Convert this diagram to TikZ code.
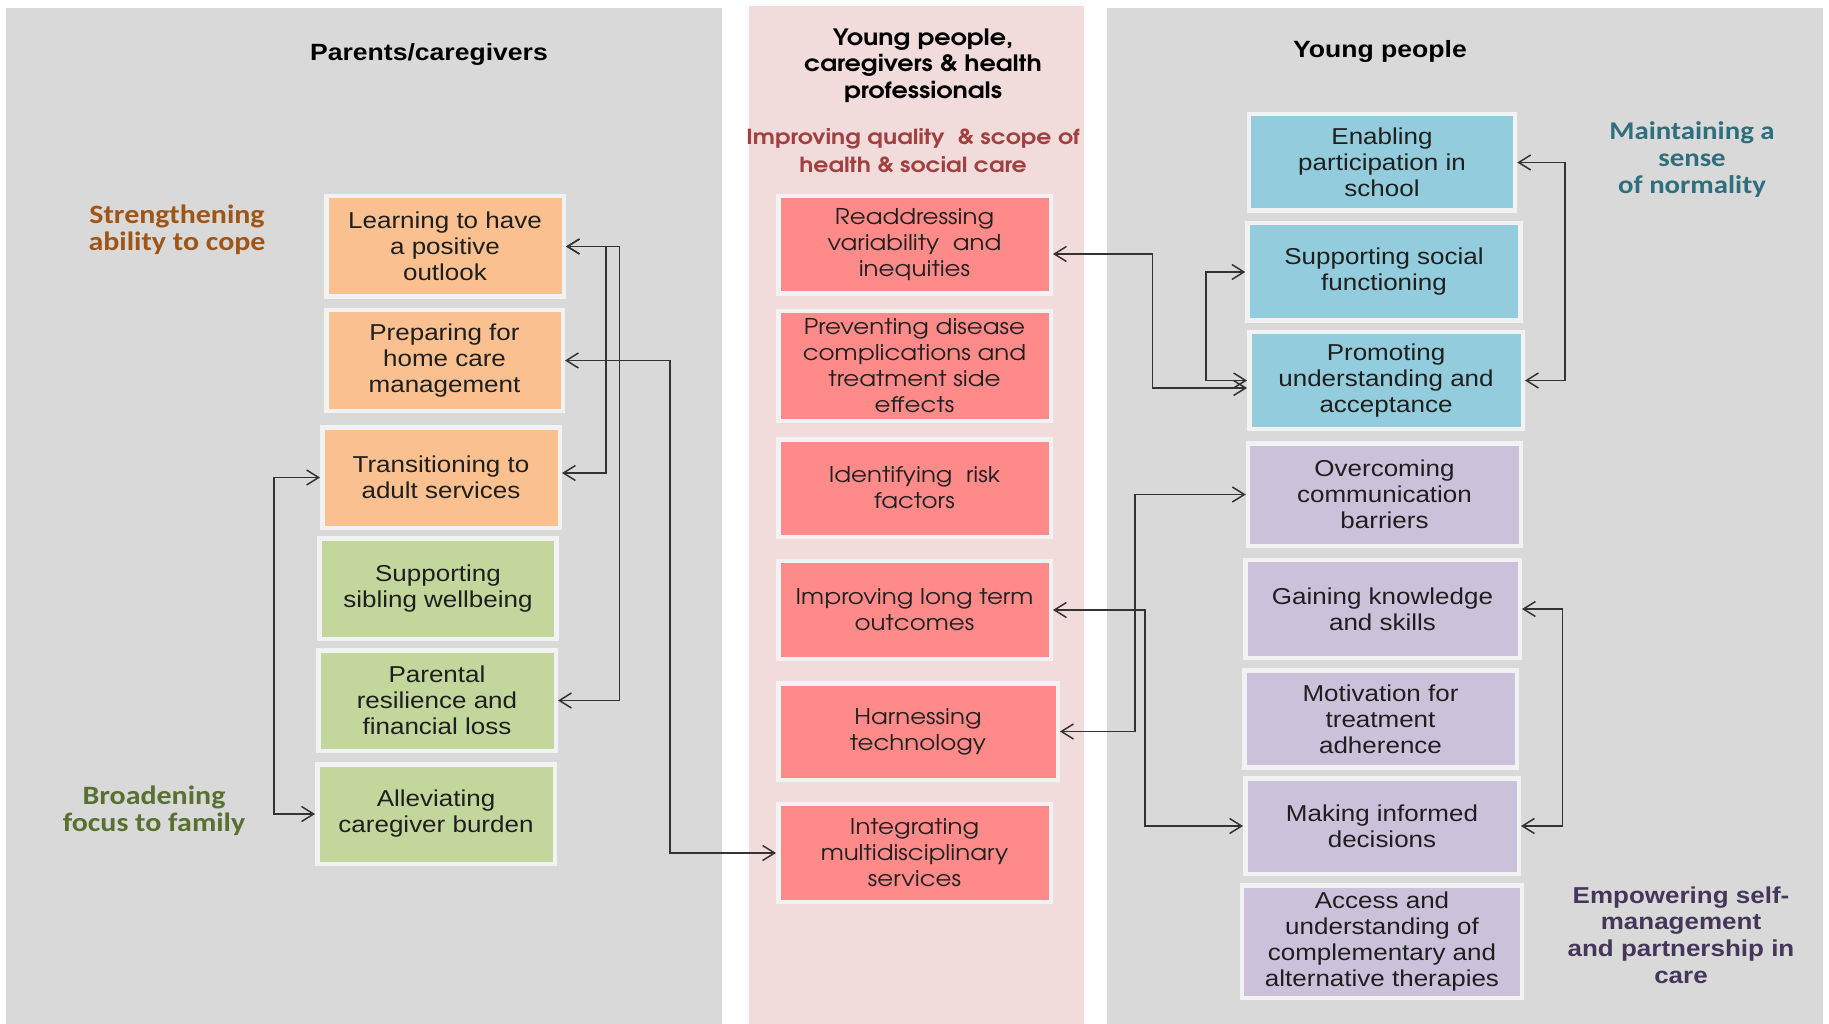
\documentclass[tikz,border=0pt]{standalone}
\usepackage{fontspec}
\usetikzlibrary{arrows.meta}
\setmainfont{Liberation Sans}
\newfontfamily\arfont[FakeStretch=1.13]{Liberation Sans}
\newfontfamily\calfont[FakeStretch=1.13]{Carlito}
\newfontfamily\gothfont[FakeStretch=1.13]{TeX Gyre Adventor}
\definecolor{panelgray}{HTML}{D9D9D9}
\definecolor{panelpink}{HTML}{F2DCDB}
\definecolor{boxborder}{HTML}{F2F2F2}
\definecolor{cOrange}{HTML}{FAC090}
\definecolor{cGreen}{HTML}{C3D69B}
\definecolor{cRed}{HTML}{FF8A8A}
\definecolor{cBlue}{HTML}{93CDDD}
\definecolor{cPurple}{HTML}{CCC1DA}
\definecolor{arrowc}{HTML}{333333}
\definecolor{tBrown}{HTML}{9E5515}
\definecolor{tOlive}{HTML}{587030}
\definecolor{tRed}{HTML}{A04040}
\definecolor{tTeal}{HTML}{2F6E7C}
\definecolor{tPurple}{HTML}{45365A}
\tikzset{
  box/.style={rectangle, draw=boxborder, line width=4.5pt, align=center, inner sep=0pt,
    text=black!88, font=\arfont\fontsize{23}{26}\selectfont},
  gbox/.style={box, font=\gothfont\fontsize{21.7}{26}\selectfont},
  arr/.style={draw=arrowc, line width=1.5pt,
    {Straight Barb[length=12pt,width=15pt]}-{Straight Barb[length=12pt,width=15pt]}},
  head/.style={align=center, inner sep=0pt, font=\arfont\bfseries\fontsize{23.5}{26}\selectfont},
  theme/.style={align=center, inner sep=0pt, font=\calfont\bfseries\fontsize{26.5}{27}\selectfont}
}
\begin{document}
\begin{tikzpicture}[x=1pt,y=-1pt]
\useasboundingbox (0,0) rectangle (1829,1024);
\fill[white] (0,0) rectangle (1829,1024);
% panels
\fill[panelgray] (6,8) rectangle (722,1024);
\fill[panelpink] (749,6) rectangle (1084,1024);
\fill[panelgray] (1107,8) rectangle (1823,1024);

% headings
\node[head] (tparents) at (429,54.5) {Parents/caregivers};
\node[head, font=\gothfont\bfseries\fontsize{22.5}{26.5}\selectfont] (tmid) at (923,65.5) {Young people,\\caregivers \& health\\professionals};
\node[head, text=tRed, font=\gothfont\bfseries\fontsize{20.8}{28}\selectfont] (tsub) at (913,151) {Improving quality \ \& scope of\\health \& social care};
\node[head] (tyoung) at (1380,51.5) {Young people};

% theme labels
\node[theme, text=tBrown] (lstrength) at (177,230) {Strengthening\\ability to cope};
\node[theme, text=tOlive] (lbroad) at (154,811) {Broadening\\focus to family};
\node[theme, text=tTeal, font=\calfont\bfseries\fontsize{25.5}{27}\selectfont] (lmaint) at (1692,160) {Maintaining a\\sense\\of normality};
\node[theme, text=tPurple, font=\arfont\bfseries\fontsize{23}{26.7}\selectfont] (lempow) at (1681,935) {Empowering self-\\management\\and partnership in\\care};

% left column boxes
\node[box, fill=cOrange, minimum width=237.5pt, minimum height=100.5pt] (learn) at (445,246.5) {Learning to have\\a positive\\outlook};
\node[box, fill=cOrange, minimum width=236.5pt, minimum height=100.5pt] (prep) at (444.5,360.5) {Preparing for\\home care\\management};
\node[box, fill=cOrange, minimum width=237.5pt, minimum height=100.5pt] (trans) at (441,477.5) {Transitioning to\\adult services};
\node[box, fill=cGreen, minimum width=237pt, minimum height=100.5pt] (sibling) at (438,588.5) {Supporting\\sibling wellbeing};
\node[box, fill=cGreen, minimum width=237.5pt, minimum height=100.5pt] (parental) at (437,700.5) {Parental\\resilience and\\financial loss};
\node[box, fill=cGreen, minimum width=237.5pt, minimum height=99.5pt] (allev) at (436,814) {Alleviating\\caregiver burden};

% middle column boxes
\node[gbox, fill=cRed, minimum width=272.5pt, minimum height=97.5pt] (readd) at (914.5,245) {Readdressing\\variability \ and\\inequities};
\node[gbox, fill=cRed, minimum width=272.5pt, minimum height=109.5pt] (prevent) at (914.5,366) {Preventing disease\\complications and\\treatment side\\effects};
\node[gbox, fill=cRed, minimum width=272.5pt, minimum height=97.5pt] (ident) at (914.5,488) {Identifying \ risk\\factors};
\node[gbox, fill=cRed, minimum width=272.5pt, minimum height=98pt] (improv) at (914.5,610) {Improving long term\\outcomes};
\node[gbox, fill=cRed, minimum width=279.5pt, minimum height=96.5pt] (harness) at (918,731.5) {Harnessing\\technology};
\node[gbox, fill=cRed, minimum width=272.5pt, minimum height=98pt] (integ) at (914.5,853) {Integrating\\multidisciplinary\\services};

% right column boxes
\node[box, fill=cBlue, minimum width=266pt, minimum height=96.5pt] (enab) at (1382,162.5) {Enabling\\participation in\\school};
\node[box, fill=cBlue, minimum width=273pt, minimum height=97.5pt] (social) at (1384,272) {Supporting social\\functioning};
\node[box, fill=cBlue, minimum width=273.5pt, minimum height=96.5pt] (promot) at (1386,380.5) {Promoting\\understanding and\\acceptance};
\node[box, fill=cPurple, minimum width=273pt, minimum height=102.5pt] (overc) at (1384.5,494.5) {Overcoming\\communication\\barriers};
\node[box, fill=cPurple, minimum width=274.5pt, minimum height=98pt] (gain) at (1382.5,609) {Gaining knowledge\\and skills};
\node[box, fill=cPurple, minimum width=272.5pt, minimum height=97pt] (motiv) at (1380.5,719) {Motivation for\\treatment\\adherence};
\node[box, fill=cPurple, minimum width=273.5pt, minimum height=95.5pt] (making) at (1382,826) {Making informed\\decisions};
\node[box, fill=cPurple, minimum width=280pt, minimum height=112.5pt] (access) at (1382,941.5) {Access and\\understanding of\\complementary and\\alternative therapies};

% routing coordinates
\coordinate (xA) at (606,0);
\coordinate (xB) at (619.5,0);
\coordinate (xC) at (670,0);
\coordinate (xD) at (274,0);
\coordinate (xE) at (1152.5,0);
\coordinate (xF) at (1206,0);
\coordinate (xG) at (1565,0);
\coordinate (xH) at (1135,0);
\coordinate (xI) at (1145,0);
\coordinate (xJ) at (1562.5,0);
\coordinate (te) at ([yshift=4.5pt]trans.east);
\coordinate (rd) at ([yshift=-9pt]readd.east);
\coordinate (pw) at ([yshift=-7.5pt]promot.west);

% connectors
\draw[arr] (learn.east) -- (learn.east -| xA) |- (te);
\draw[arr] (learn.east) -- (learn.east -| xB) |- (parental.east);
\draw[arr] (prep.east) -- (prep.east -| xC) |- (integ.west);
\draw[arr] (trans.west) -- (trans.west -| xD) |- (allev.west);
\draw[arr] (rd) -- (rd -| xE) |- (pw);
\draw[arr] (social.west) -- (social.west -| xF) |- (promot.west);
\draw[arr] (enab.east) -- (enab.east -| xG) |- (promot.east);
\draw[arr] (harness.east) -- (harness.east -| xH) |- (overc.west);
\draw[arr] (improv.east) -- (improv.east -| xI) |- (making.west);
\draw[arr] (gain.east) -- (gain.east -| xJ) |- (making.east);
\end{tikzpicture}
\end{document}
